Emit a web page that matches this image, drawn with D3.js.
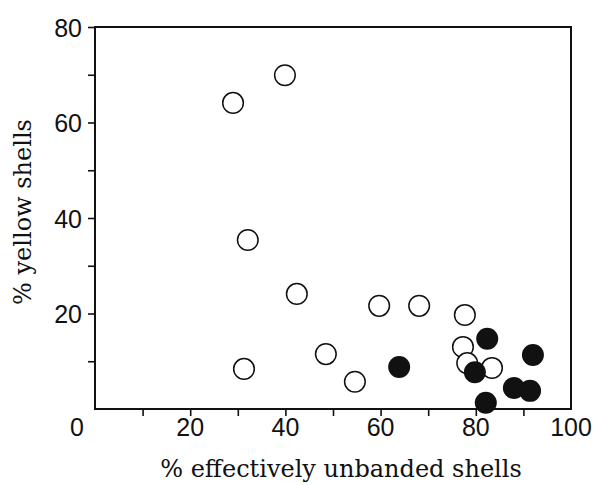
<!DOCTYPE html>
<html>
<head>
<meta charset="utf-8">
<script src="https://cdn.jsdelivr.net/npm/d3@7"></script>
<style>
  body { margin: 0; background: #fff; }
  svg { display: block; }
  .tick text { font-family: "Liberation Sans", Arial, sans-serif; font-size: 25px; fill: #111; }
</style>
</head>
<body>
<div id="svg-container"></div>
<script>
// data: % effectively unbanded (x) vs % yellow (y)
const openX = [29.0, 39.9, 32.1, 42.4, 59.7, 68.1, 48.5, 54.6, 31.3, 77.7, 77.3, 78.2, 83.4];
const openY = [64.1, 69.9, 35.4, 24.1, 21.6, 21.6, 11.5, 5.7, 8.4, 19.7, 13.0, 9.6, 8.6];
const filledX = [63.9, 82.4, 79.8, 92.0, 88.0, 91.4, 82.1];
const filledY = [8.8, 14.7, 7.7, 11.3, 4.4, 3.8, 1.3];

const xTicks = [10, 20, 30, 40, 50, 60, 70, 80, 90];
const xLabels = [20, 40, 60, 80, 100];
const yTicks = [10, 20, 30, 40, 50, 60, 70, 80];
const yLabels = [20, 40, 60, 80];

const width = 594, height = 485;
const margin = { top: 27, right: 23, bottom: 76, left: 95 };
const serif = '"DejaVu Serif", "Liberation Serif", serif';
const sans = '"Liberation Sans", Arial, sans-serif';

const svg = d3.select("#svg-container").append("svg")
  .attr("width", width).attr("height", height);

const xScale = d3.scaleLinear().domain([0, 100]).range([margin.left, width - margin.right]);
const yScale = d3.scaleLinear().domain([0, 80]).range([height - margin.bottom, margin.top]);

// frame
svg.append("rect")
  .attr("x", xScale(0)).attr("y", yScale(80))
  .attr("width", xScale(100) - xScale(0))
  .attr("height", yScale(0) - yScale(80))
  .attr("fill", "none").attr("stroke", "#111").attr("stroke-width", 2);

// x ticks
const xAxis = svg.append("g")
  .attr("class", "x-axis")
  .attr("transform", `translate(0,${yScale(0)})`)
  .call(d3.axisBottom(xScale).tickValues(xTicks).tickSize(7).tickFormat(""));
xAxis.select(".domain").remove();
xAxis.selectAll(".tick line").attr("stroke", "#111").attr("stroke-width", 1.6);

// x labels (every 20, plus the 0 at the corner)
svg.append("g")
  .selectAll("text")
  .data(xLabels)
  .join("text")
  .attr("x", (d) => xScale(d))
  .attr("y", 436)
  .attr("text-anchor", "middle")
  .style("font-family", sans)
  .style("font-size", "25px")
  .attr("fill", "#111")
  .text((d) => d);

svg.append("text")
  .attr("x", xScale(0) - 18)
  .attr("y", 436)
  .attr("text-anchor", "middle")
  .style("font-family", sans)
  .style("font-size", "25px")
  .attr("fill", "#111")
  .text("0");

// y ticks
const yAxis = svg.append("g")
  .attr("class", "y-axis")
  .attr("transform", `translate(${xScale(0)},0)`)
  .call(d3.axisLeft(yScale).tickValues(yTicks).tickSize(7).tickPadding(6)
    .tickFormat((d) => (yLabels.includes(d) ? d : "")));
yAxis.select(".domain").remove();
yAxis.selectAll(".tick line").attr("stroke", "#111").attr("stroke-width", 1.6);
yAxis.selectAll(".tick text").attr("dy", "0.36em");

// points
svg.append("g")
  .selectAll("circle")
  .data(openX.map((x, i) => ({ x, y: openY[i] })))
  .join("circle")
  .attr("cx", (d) => xScale(d.x))
  .attr("cy", (d) => yScale(d.y))
  .attr("r", 10.3)
  .attr("fill", "#fff")
  .attr("stroke", "#111")
  .attr("stroke-width", 1.5);

svg.append("g")
  .selectAll("circle")
  .data(filledX.map((x, i) => ({ x, y: filledY[i] })))
  .join("circle")
  .attr("cx", (d) => xScale(d.x))
  .attr("cy", (d) => yScale(d.y))
  .attr("r", 11)
  .attr("fill", "#111");

// axis titles
svg.append("text")
  .attr("x", 341)
  .attr("y", 477)
  .attr("text-anchor", "middle")
  .style("font-family", serif)
  .style("font-size", "24px")
  .attr("fill", "#111")
  .text("% effectively unbanded shells");

svg.append("text")
  .attr("transform", `translate(31,${(yScale(0) + yScale(80)) / 2 - 6}) rotate(-90)`)
  .attr("text-anchor", "middle")
  .style("font-family", serif)
  .style("font-size", "24px")
  .attr("fill", "#111")
  .text("% yellow shells");
</script>
</body>
</html>
